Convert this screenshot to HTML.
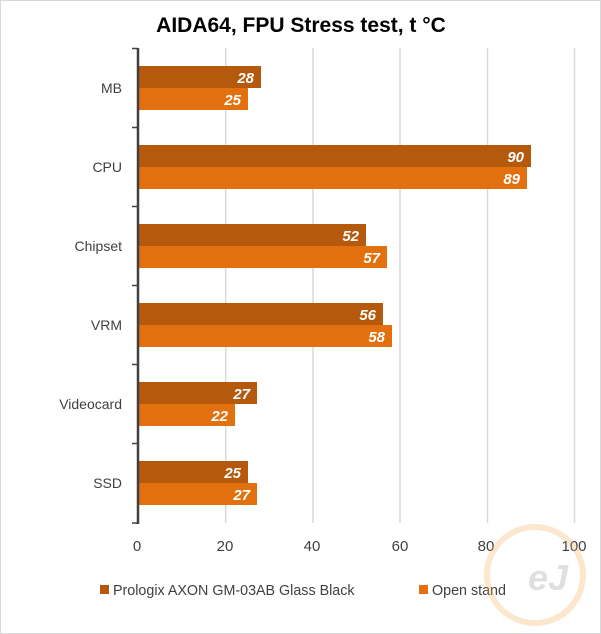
<!DOCTYPE html>
<html><head><style>
body{margin:0;background:#fff}
svg{display:block;font-family:"Liberation Sans",sans-serif}
</style></head><body>
<svg width="601" height="634" viewBox="0 0 601 634">
<rect x="0.5" y="0.5" width="600" height="633" fill="#fff" stroke="#d9d9d9"/>
<text x="301" y="32" text-anchor="middle" font-size="21" font-weight="bold" fill="#000">AIDA64, FPU Stress test, t °C</text>
<g stroke="#d9d9d9" stroke-width="1.5">
<line x1="225.7" y1="48" x2="225.7" y2="523"/>
<line x1="313" y1="48" x2="313" y2="523"/>
<line x1="400" y1="48" x2="400" y2="523"/>
<line x1="487.5" y1="48" x2="487.5" y2="523"/>
<line x1="574.5" y1="48" x2="574.5" y2="523"/>
</g>
<g fill="#b5590c">
<rect x="139" y="66" width="122" height="22"/>
<rect x="139" y="145" width="392" height="22"/>
<rect x="139" y="224" width="227" height="22"/>
<rect x="139" y="303" width="244" height="22"/>
<rect x="139" y="382" width="118" height="22"/>
<rect x="139" y="461" width="109" height="22"/>
</g>
<g fill="#e3700f">
<rect x="139" y="88" width="109" height="22"/>
<rect x="139" y="167" width="388" height="22"/>
<rect x="139" y="246" width="248" height="22"/>
<rect x="139" y="325" width="253" height="22"/>
<rect x="139" y="404" width="96" height="22"/>
<rect x="139" y="483" width="118" height="22"/>
</g>
<g fill="#fff" font-size="15" font-weight="bold" font-style="italic" text-anchor="end">
<text x="254" y="83">28</text><text x="241" y="105">25</text>
<text x="524" y="162">90</text><text x="520" y="184">89</text>
<text x="359" y="241">52</text><text x="380" y="263">57</text>
<text x="376" y="320">56</text><text x="385" y="342">58</text>
<text x="250" y="399">27</text><text x="228" y="421">22</text>
<text x="241" y="478">25</text><text x="250" y="500">27</text>
</g>
<g stroke="#404040" stroke-width="2.5">
<line x1="138" y1="48" x2="138" y2="524"/>
</g>
<g stroke="#404040" stroke-width="1.5">
<line x1="132" y1="48.5" x2="138" y2="48.5"/>
<line x1="132" y1="127.5" x2="138" y2="127.5"/>
<line x1="132" y1="206.5" x2="138" y2="206.5"/>
<line x1="132" y1="285.5" x2="138" y2="285.5"/>
<line x1="132" y1="364.5" x2="138" y2="364.5"/>
<line x1="132" y1="443.5" x2="138" y2="443.5"/>
<line x1="132" y1="523" x2="138" y2="523"/>
</g>
<g fill="#404040" font-size="14" text-anchor="end">
<text x="122" y="93">MB</text>
<text x="122" y="172">CPU</text>
<text x="122" y="251">Chipset</text>
<text x="122" y="330">VRM</text>
<text x="122" y="409">Videocard</text>
<text x="122" y="488">SSD</text>
</g>
<g fill="#404040" font-size="15" text-anchor="middle">
<text x="137" y="551">0</text>
<text x="225" y="551">20</text>
<text x="312" y="551">40</text>
<text x="400" y="551">60</text>
<text x="486" y="551">80</text>
<text x="574" y="551">100</text>
</g>
<rect x="100" y="585" width="9" height="9" fill="#b5590c"/>
<text x="113" y="595" font-size="14.3" fill="#404040">Prologix AXON GM-03AB Glass Black</text>
<rect x="419" y="585" width="9" height="9" fill="#e3700f"/>
<text x="432" y="595" font-size="14.3" fill="#404040">Open stand</text>
<g opacity="0.3">
<circle cx="535" cy="575" r="48" fill="none" stroke="#f5b060" stroke-width="6"/>
<text x="548" y="590" text-anchor="middle" font-size="36" font-weight="bold" font-style="italic" fill="#999">eJ</text>
</g>
</svg>
</body></html>
